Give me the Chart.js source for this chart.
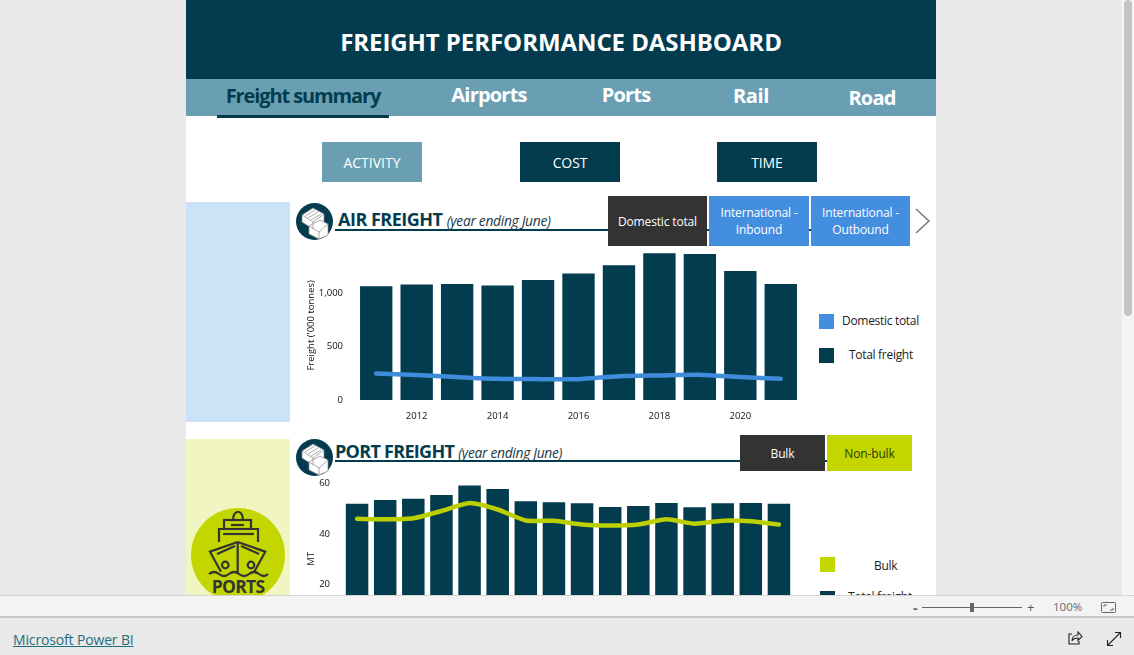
<!DOCTYPE html>
<html><head><meta charset="utf-8">
<script src="https://cdn.jsdelivr.net/npm/chart.js@4"></script>
<style>
html,body{margin:0;padding:0;width:1134px;height:655px;overflow:hidden;background:#e9e9e9;font-family:"Open Sans",sans-serif}
.a{position:absolute}
.t{position:absolute;white-space:nowrap;display:flex;align-items:center;justify-content:center;text-align:center}
canvas{position:absolute}
</style></head><body>
<div class="a" style="left:186px;top:0;width:750px;height:595px;background:#fff"></div>
<div class="t" style="left:186px;top:0;width:750px;height:79px;background:#023c4e;color:#fff;font-weight:700;font-size:24px;letter-spacing:-.07px;padding-top:4px;box-sizing:border-box">FREIGHT PERFORMANCE DASHBOARD</div>
<div class="a" style="left:186px;top:79px;width:750px;height:37px;background:#6a9fb3"></div>
<div class="t" style="left:217px;top:78px;width:172px;height:34px;color:#023c4e;font-weight:700;font-size:20px;letter-spacing:-1.1px">Freight summary</div>
<div class="a" style="left:217px;top:115px;width:172px;height:3px;background:#023c4e"></div>
<div class="t" style="left:439px;top:78px;width:100px;height:33px;color:#fff;font-weight:700;font-size:20px;letter-spacing:-.8px">Airports</div>
<div class="t" style="left:576px;top:78px;width:100px;height:33px;color:#fff;font-weight:700;font-size:20px;letter-spacing:-.8px">Ports</div>
<div class="t" style="left:701px;top:78px;width:100px;height:34px;color:#fff;font-weight:700;font-size:20px;letter-spacing:-.4px">Rail</div>
<div class="t" style="left:822px;top:80px;width:100px;height:35px;color:#fff;font-weight:700;font-size:20px;letter-spacing:-.8px">Road</div>

<div class="t" style="left:322px;top:142px;width:100px;height:40px;background:#6a9fb3;color:#fff;font-size:14px;letter-spacing:0">ACTIVITY</div>
<div class="t" style="left:520px;top:142px;width:100px;height:40px;background:#023c4e;color:#fff;font-size:14px;letter-spacing:-.1px">COST</div>
<div class="t" style="left:717px;top:142px;width:100px;height:40px;background:#023c4e;color:#fff;font-size:14px;letter-spacing:-.1px">TIME</div>

<div class="a" style="left:186px;top:202px;width:104px;height:220px;background:#cce2f7"></div>
<div class="a" style="left:186px;top:439px;width:104px;height:156px;background:#f0f5c1"></div>

<svg class="a" style="left:296px;top:203px" width="37" height="37" viewBox="0 0 37 37"><circle cx="18.500" cy="18.500" r="18.500" fill="#023c4e"/><path d="M6 12L17 5l11 6v8l-11 7-11-7z" fill="#fff" stroke="#888" stroke-width=".7"/><path d="M13 23l11-6 8 4v11l-9 4-10-5z" fill="#fff" stroke="#888" stroke-width=".7"/><path d="M9 13l10-6M12 15l10-6M15 17l10-6M6 12l11 7 11-8M17 19v7M13 23l10 6 9-8M23 29v7" fill="none" stroke="#888" stroke-width=".7"/></svg>
<svg class="a" style="left:296px;top:439px" width="37" height="37" viewBox="0 0 37 37"><circle cx="18.500" cy="18.500" r="18.500" fill="#023c4e"/><path d="M6 12L17 5l11 6v8l-11 7-11-7z" fill="#fff" stroke="#888" stroke-width=".7"/><path d="M13 23l11-6 8 4v11l-9 4-10-5z" fill="#fff" stroke="#888" stroke-width=".7"/><path d="M9 13l10-6M12 15l10-6M15 17l10-6M6 12l11 7 11-8M17 19v7M13 23l10 6 9-8M23 29v7" fill="none" stroke="#888" stroke-width=".7"/></svg>

<div class="a" style="left:335px;top:229px;width:575px;height:2px;background:#023c4e"></div>
<div class="a" style="left:338px;top:207px;color:#023c4e;font-weight:700;font-size:18px;letter-spacing:-.5px;white-space:nowrap">AIR FREIGHT <span style="font-weight:400;font-style:italic;font-size:13.800px;color:#1c3a44;letter-spacing:-.3px">(year ending June)</span></div>
<div class="t" style="left:608px;top:196px;width:99px;height:50px;background:#333;color:#fff;font-size:12px;letter-spacing:-.15px">Domestic total</div>
<div class="t" style="left:709px;top:196px;width:100px;height:50px;background:#448ee0;color:#fff;font-size:12px;line-height:17px;letter-spacing:-.15px">International -<br>Inbound</div>
<div class="t" style="left:811px;top:196px;width:99px;height:50px;background:#448ee0;color:#fff;font-size:12px;line-height:17px;letter-spacing:-.15px">International -<br>Outbound</div>
<svg class="a" style="left:912px;top:205px" width="20" height="32"><path d="M4 4l13 12L4 28" fill="none" stroke="#777" stroke-width="1.500"/></svg>

<div class="a" style="left:819px;top:314px;width:15px;height:15px;background:#448ee0"></div>
<div class="a" style="left:842px;top:312px;font-size:12px;color:#222;white-space:nowrap;letter-spacing:-.3px">Domestic total</div>
<div class="a" style="left:819px;top:348px;width:15px;height:15px;background:#023c4e"></div>
<div class="a" style="left:849px;top:346px;font-size:12px;color:#222;white-space:nowrap;letter-spacing:-.3px">Total freight</div>

<div class="a" style="left:335px;top:460px;width:577px;height:2px;background:#023c4e"></div>
<div class="a" style="left:335px;top:439px;color:#023c4e;font-weight:700;font-size:18px;letter-spacing:-.7px;white-space:nowrap">PORT FREIGHT <span style="font-weight:400;font-style:italic;font-size:13.800px;color:#1c3a44;letter-spacing:-.3px">(year ending June)</span></div>
<div class="t" style="left:740px;top:435px;width:85px;height:36px;background:#333;color:#fff;font-size:12px;letter-spacing:-.15px">Bulk</div>
<div class="t" style="left:827px;top:435px;width:85px;height:36px;background:#c4d600;color:#2d3a10;font-size:12px;letter-spacing:-.15px">Non-bulk</div>
<div class="a" style="left:820px;top:557px;width:15px;height:15px;background:#c4d600"></div>
<div class="a" style="left:874px;top:557px;font-size:12px;color:#222;white-space:nowrap;letter-spacing:-.3px">Bulk</div>
<div class="a" style="left:820px;top:591px;width:15px;height:15px;background:#023c4e"></div>
<div class="a" style="left:848px;top:588px;font-size:12px;color:#222;white-space:nowrap;letter-spacing:-.3px">Total freight</div>

<svg class="a" style="left:191px;top:508px" width="94" height="96" viewBox="0 0 94 96"><ellipse cx="47" cy="47" rx="47" ry="47" fill="#c4d600"/><g fill="none" stroke="#333" stroke-width="2.200"><path d="M42 12c0-11 10-11 10 0"/><rect x="33" y="12" width="27" height="9"/><path d="M40 17h13" /><path d="M28 34V21h39v13"/><path d="M32 26h31"/><path d="M46.700 34L19 43.700 30 63.700M46.700 34l27.600 9.700-11 20"/><path d="M46.700 34v31"/><path d="M26 46l18-8M68 46l-18-8"/><circle cx="34.300" cy="57" r="3.300"/><circle cx="60" cy="57" r="3.300"/><path d="M18 66q5-4 10 0t10 0 10 0 10 0 10 0 9 0"/></g><text x="47" y="84.500" text-anchor="middle" font-size="17.500" font-weight="700" fill="#333" font-family="Open Sans" letter-spacing="-.7">PORTS</text></svg>

<canvas id="air" width="501" height="190" style="left:300px;top:240px"></canvas>
<canvas id="port" width="493" height="191" style="left:300px;top:473px"></canvas>

<div class="a" style="left:0;top:595px;width:1134px;height:23px;background:#f3f3f3;border-top:1px solid #d4d4d4;border-bottom:2px solid #c8c8c8;box-sizing:border-box"></div>
<div class="a" style="left:0;top:618px;width:1134px;height:37px;background:#e9e9e9"></div>
<div class="a" style="left:1122px;top:0;width:12px;height:595px;background:#f5f5f5"></div>
<div class="a" style="left:1124px;top:0;width:8px;height:316px;background:#c4c4c4;border-radius:4px"></div>
<div class="a" style="left:13px;top:630px;font-size:14px;font-weight:500;color:#1d6f7d;text-decoration:underline;white-space:nowrap;letter-spacing:-.15px">Microsoft Power BI</div>
<div class="a" style="left:913px;top:598px;font-size:14px;font-weight:700;color:#666">-</div>
<div class="a" style="left:922px;top:607px;width:100px;height:1px;background:#666"></div>
<div class="a" style="left:970px;top:603px;width:4px;height:9px;background:#666"></div>
<div class="a" style="left:1027px;top:598px;font-size:13px;color:#555">+</div>
<div class="a" style="left:1053px;top:599px;font-size:11.500px;color:#666">100%</div>
<svg class="a" style="left:1101px;top:602px" width="16" height="12"><rect x=".5" y=".5" width="14" height="10" rx="1" fill="none" stroke="#666"/><path d="M3 5V3h3M12 6v2H9" fill="none" stroke="#666"/></svg>
<svg class="a" style="left:1067px;top:631px" width="16" height="16"><path d="M5 3H2v10h10v-3M5 10c0-4 3-6 6-6V1l4 4.500-4 4V7c-3 0-5 1-6 3z" fill="none" stroke="#222" stroke-width="1.100"/></svg>
<svg class="a" style="left:1106px;top:631px" width="16" height="16"><path d="M1.500 14.500l13-13M9 1.500h5.500V7M7 14.500H1.500V9" fill="none" stroke="#222" stroke-width="1.100"/></svg>

<script>
const airYears = ["2011","2012","2013","2014","2015","2016","2017","2018","2019","2020","2021"];
const airTotalFreight = [1069,1084,1090,1075,1128,1187,1265,1377,1371,1212,1090];
const airDomesticTotal = [249,234,215,199,196,196,224,231,237,215,199];
const airYTicks = [0,500,1000];
const portYears = ["2006","2007","2008","2009","2010","2011","2012","2013","2014","2015","2016","2017","2018","2019","2020","2021"];
const portTotalFreight = [52.0,53.5,54.0,55.5,59.3,57.9,53.0,52.6,52.2,50.7,51.1,52.3,50.6,52.2,52.3,52.0];
const portBulk = [46.0,45.8,46.2,49.1,52.3,49.7,45.3,45.2,43.7,43.3,43.7,45.8,44.0,45.2,45.0,43.7];
const portYTicks = [0,20,40,60];

Chart.defaults.animation = false;
Chart.defaults.font.family = '"Open Sans", sans-serif';

function make(id, labels, bars, line, lineColor, opts) {
  new Chart(document.getElementById(id), {
    data: {
      labels,
      datasets: [
        {type:'line', label:opts.lineLabel, data:line, borderColor:lineColor, borderWidth:4.5, pointRadius:0,
         tension:0.2, borderCapStyle:'round', order:0},
        {type:'bar', label:'Total freight', data:bars, backgroundColor:'#023c4e',
         categoryPercentage:1, barPercentage:0.8, order:1}
      ]
    },
    options: {
      responsive:false,
      layout:{padding:{top:10,left:0,right:0,bottom:0}},
      plugins:{legend:{display:false},tooltip:{enabled:false}},
      scales:{
        x:{
          grid:{display:false}, border:{display:false},
          ticks:{color:'#111',font:{size:9.5},maxRotation:0,autoSkip:false,padding:3,
            callback(v){const s=this.getLabelForValue(v);return (+s)%2===0?s:'';}},
          afterFit(s){s.height=30;}
        },
        y:{
          min:0,max:opts.max,
          grid:{display:false}, border:{display:false},
          title:{display:true,text:opts.title,color:'#111',font:{size:9.5},padding:{top:6,bottom:0}},
          afterBuildTicks(s){s.ticks=opts.ticks.map(value=>({value}));},
          ticks:{color:'#111',font:{size:9.5},padding:5,
            callback(v){return v.toLocaleString('en-US');}},
          afterFit(s){s.width=opts.axisW;}
        }
      }
    }
  });
}
make('air',airYears,airTotalFreight,airDomesticTotal,'#3f8bdc',{max:1402,ticks:airYTicks,title:"Freight ('000 tonnes)",axisW:56,lineLabel:'Domestic total'});
make('port',portYears,portTotalFreight,portBulk,'#bccf00',{max:60,ticks:portYTicks,title:"MT",axisW:43,lineLabel:'Bulk'});
</script>
</body></html>
